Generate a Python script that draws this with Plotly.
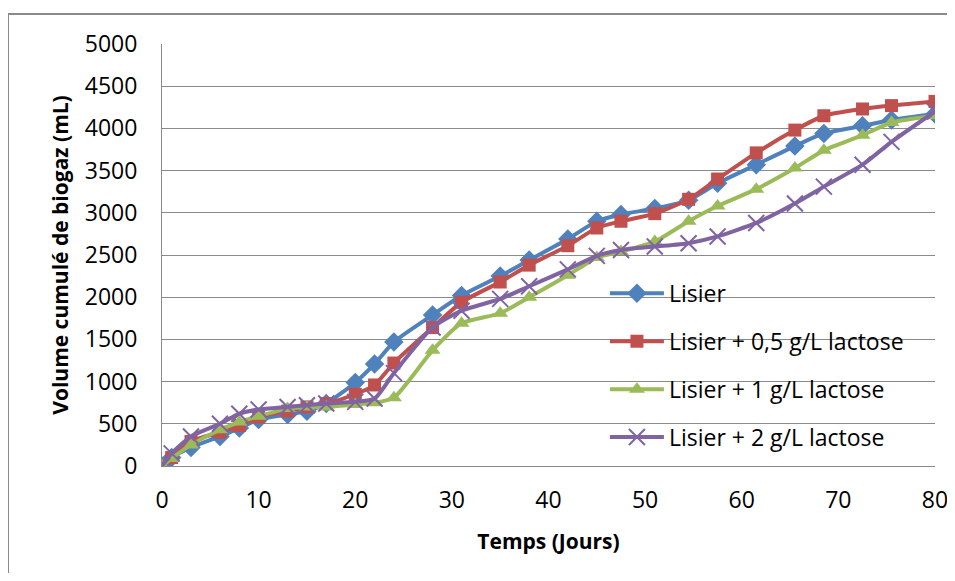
import plotly.graph_objects as go

# ---------------------------------------------------------------------------
# Data
# ---------------------------------------------------------------------------

days = [0, 1, 3, 6, 8, 10, 13, 15, 17, 20, 22, 24, 28, 31, 35, 38, 42, 45,
        47.5, 51, 54.5, 57.5, 61.5, 65.5, 68.5, 72.5, 75.5, 80]

lisier = [0, 100, 220, 350, 450, 550, 610, 650, 740, 990, 1210, 1470, 1790, 2020,
          2250, 2440, 2690, 2900, 2980, 3050, 3150, 3350, 3570, 3790, 3940, 4030,
          4100, 4170]
lactose_05 = [0, 100, 290, 400, 480, 580, 650, 700, 740, 850, 960, 1220, 1640, 1940,
              2180, 2380, 2610, 2820, 2900, 2990, 3160, 3400, 3710, 3980, 4150, 4230,
              4270, 4320]
lactose_1 = [0, 90, 250, 430, 520, 590, 680, 700, 700, 730, 750, 810, 1370, 1690,
             1810, 2000, 2260, 2470, 2540, 2660, 2900, 3080, 3280, 3530, 3740, 3920,
             4070, 4150]
lactose_2 = [0, 150, 350, 500, 620, 670, 700, 720, 740, 760, 800, 1100, 1640, 1840,
             1980, 2130, 2330, 2490, 2560, 2600, 2640, 2720, 2880, 3110, 3310, 3570,
             3840, 4200]

series_names = ["Lisier", "Lisier + 0,5 g/L lactose", "Lisier + 1 g/L lactose",
                "Lisier + 2 g/L lactose"]
x_ticks = [0, 10, 20, 30, 40, 50, 60, 70, 80]
y_ticks = [0, 500, 1000, 1500, 2000, 2500, 3000, 3500, 4000, 4500, 5000]

# ---------------------------------------------------------------------------
# Figure
# ---------------------------------------------------------------------------

FONT = "Open Sans"
GRID = "#8a8a8a"

styles = [
    {"color": "#4F81BD", "symbol": "diamond", "size": 15},
    {"color": "#C0504D", "symbol": "square", "size": 13},
    {"color": "#9BBB59", "symbol": "triangle-up", "size": 14},
    {"color": "#8064A2", "symbol": "x-thin", "size": 16},
]

fig = go.Figure()
for name, values, st in zip(series_names, [lisier, lactose_05, lactose_1, lactose_2], styles):
    marker = {"symbol": st["symbol"], "size": st["size"], "color": st["color"]}
    if st["symbol"] == "x-thin":
        marker["line"] = {"color": st["color"], "width": 2}
    fig.add_trace(go.Scatter(
        x=days, y=values, name=name, mode="lines+markers",
        line={"color": st["color"], "width": 4, "shape": "spline", "smoothing": 0.6},
        marker=marker, legendgroup=name,
    ))

# the page body adds an 8px margin, so the figure is shifted by 8px
fig.update_layout(
    width=947, height=565,
    margin={"l": 154, "r": 20, "t": 36, "b": 107},
    paper_bgcolor="white", plot_bgcolor="white",
    font={"family": FONT, "size": 23, "color": "#000000"},
    showlegend=True,
    legend={
        "x": 0.573, "y": 0.46, "xanchor": "left", "yanchor": "top",
        "bgcolor": "rgba(0,0,0,0)", "font": {"size": 23},
        "tracegroupgap": 15, "itemwidth": 54,
    },
    xaxis={
        "range": [0, 80], "tickvals": x_ticks, "showgrid": False,
        "showline": True, "linecolor": GRID, "linewidth": 1,
        "zeroline": False, "ticks": "", "ticklabelstandoff": 13,
        "ticklabeloverflow": "allow", "automargin": False,
        "title": {"text": "<b>Temps (Jours)</b>", "font": {"size": 21}, "standoff": 20},
    },
    yaxis={
        "range": [0, 5000], "tickvals": y_ticks, "showgrid": True,
        "gridcolor": GRID, "gridwidth": 1,
        "showline": True, "linecolor": GRID, "linewidth": 1,
        "zeroline": False, "ticks": "", "ticklabelstandoff": 19,
        "title": {"text": "<b>Volume cumulé de biogaz (mL)</b>", "font": {"size": 21},
                  "standoff": 10},
    },
)

# outer chart border
fig.add_shape(type="rect", xref="paper", yref="paper",
              x0=(0 - 154) / 773, x1=(943 - 154) / 773,
              y0=(458 - 600) / 422, y1=(458 - 6) / 422,
              line={"color": GRID, "width": 2}, layer="below")

fig.write_html("out.html")
